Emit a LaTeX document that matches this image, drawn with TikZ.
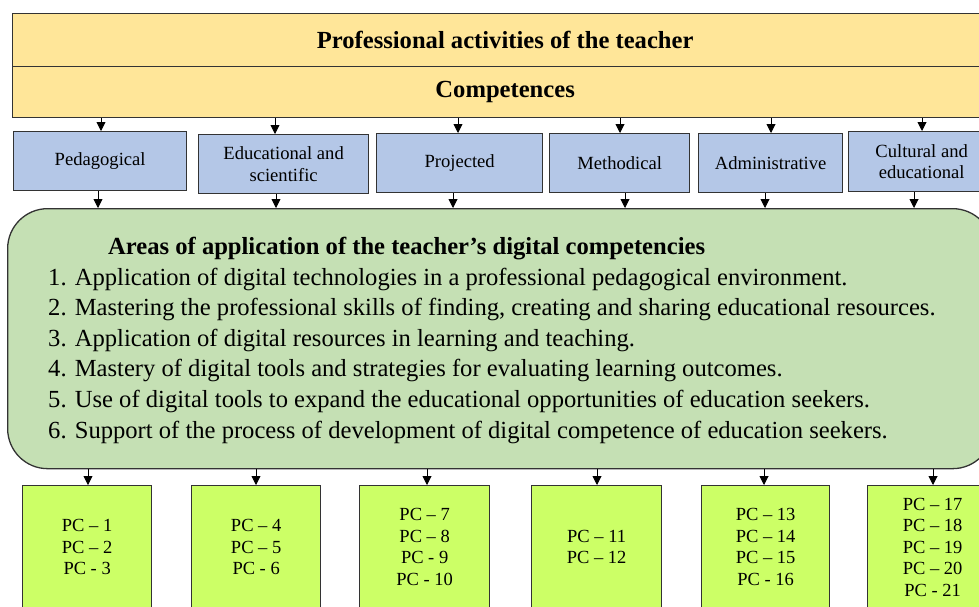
\documentclass[tikz,border=0pt]{standalone}
\usepackage{fontspec}
\setmainfont{Liberation Serif}
\usetikzlibrary{arrows.meta,calc}
\definecolor{topfill}{HTML}{FFE699}
\definecolor{bluefill}{HTML}{B4C7E7}
\definecolor{greenfill}{HTML}{C5E0B4}
\definecolor{limefill}{HTML}{CCFF66}
\definecolor{edge}{HTML}{333333}
\begin{document}
\begin{tikzpicture}[x=1pt,y=-1pt,
  box/.style={draw=edge,line width=1.3pt,inner sep=0pt,align=center},
  topbox/.style={box,fill=topfill,font=\fontsize{24.6}{28}\selectfont\bfseries},
  bluebox/.style={box,fill=bluefill,font=\fontsize{18.6}{21.5}\selectfont},
  pcbox/.style={box,fill=limefill,font=\fontsize{18.5}{21.5}\selectfont},
  listline/.style={anchor=base west,inner sep=0pt,font=\fontsize{24.6}{28}\selectfont},
  arr/.style={-{Triangle[length=9pt,width=9pt]},line width=0.9pt,black}]
\useasboundingbox (0,0) rectangle (979,606);
\clip (0,0) rectangle (979,606);
% top boxes
\node[topbox,minimum width=985pt,minimum height=53pt,anchor=north west] (prof) at (12,13) {Professional activities of the teacher};
\node[topbox,minimum width=985pt,minimum height=51pt,anchor=north west] (comp) at (12,66) {Competences};
% blue boxes
\node[bluebox,minimum width=173pt,minimum height=59pt,anchor=north west] (b1) at (13,131) {Pedagogical};
\node[bluebox,minimum width=170pt,minimum height=59pt,anchor=north west] (b2) at (198,134) {Educational and\\scientific};
\node[bluebox,minimum width=166pt,minimum height=59pt,anchor=north west] (b3) at (376,133) {Projected};
\node[bluebox,minimum width=140pt,minimum height=59pt,anchor=north west] (b4) at (549,133) {Methodical};
\node[bluebox,minimum width=144pt,minimum height=59pt,anchor=north west] (b5) at (698,133) {Administrative};
\node[bluebox,minimum width=146pt,minimum height=60pt,anchor=north west] (b6) at (848,131) {Cultural and\\educational};
% green box
\node[box,fill=greenfill,rounded corners=40pt,minimum width=985pt,minimum height=260pt,anchor=north west] (green) at (7,208) {};
\node[anchor=base west,inner sep=0pt,font=\fontsize{24.6}{28}\selectfont\bfseries] (gt) at (108,254) {Areas of application of the teacher's digital competencies};
\node[listline] (l1) at (48,285) {1. Application of digital technologies in a professional pedagogical environment.};
\node[listline] (l2) at (48,315) {2. Mastering the professional skills of finding, creating and sharing educational resources.};
\node[listline] (l3) at (48,346) {3. Application of digital resources in learning and teaching.};
\node[listline] (l4) at (48,376) {4. Mastery of digital tools and strategies for evaluating learning outcomes.};
\node[listline] (l5) at (48,407) {5. Use of digital tools to expand the educational opportunities of education seekers.};
\node[listline] (l6) at (48,438) {6. Support of the process of development of digital competence of education seekers.};
% PC boxes
\node[pcbox,minimum width=129pt,minimum height=123pt,anchor=north west] (p1) at (22,485) {PC -- 1\\PC -- 2\\PC - 3};
\node[pcbox,minimum width=129pt,minimum height=123pt,anchor=north west] (p2) at (191,485) {PC -- 4\\PC -- 5\\PC - 6};
\node[pcbox,minimum width=130pt,minimum height=123pt,anchor=north west] (p3) at (359,485) {PC -- 7\\PC -- 8\\PC - 9\\PC - 10};
\node[pcbox,minimum width=130pt,minimum height=123pt,anchor=north west] (p4) at (531,485) {PC -- 11\\PC -- 12};
\node[pcbox,minimum width=128pt,minimum height=123pt,anchor=north west] (p5) at (701,485) {PC -- 13\\PC -- 14\\PC -- 15\\PC - 16};
\node[pcbox,minimum width=130pt,minimum height=123pt,anchor=north west] (p6) at (867,485) {PC -- 17\\PC -- 18\\PC -- 19\\PC -- 20\\PC - 21};
% arrow x positions
\coordinate (a1) at (101,0); \coordinate (a2) at (275,0); \coordinate (a3) at (458,0);
\coordinate (a4) at (620,0); \coordinate (a5) at (771,0); \coordinate (a6) at (922,0);
\coordinate (c1) at (98,0); \coordinate (c2) at (276,0); \coordinate (c3) at (453,0);
\coordinate (c4) at (625,0); \coordinate (c5) at (765,0); \coordinate (c6) at (914,0);
\coordinate (d1) at (88,0); \coordinate (d2) at (256,0); \coordinate (d3) at (427,0);
\coordinate (d4) at (597,0); \coordinate (d5) at (764,0); \coordinate (d6) at (933,0);
\foreach \i in {1,...,6}{
  \draw[arr] (comp.south -| a\i) -- (b\i.north -| a\i);
  \draw[arr] (b\i.south -| c\i) -- (green.north -| c\i);
  \draw[arr] (green.south -| d\i) -- (p\i.north -| d\i);
}
\end{tikzpicture}
\end{document}
